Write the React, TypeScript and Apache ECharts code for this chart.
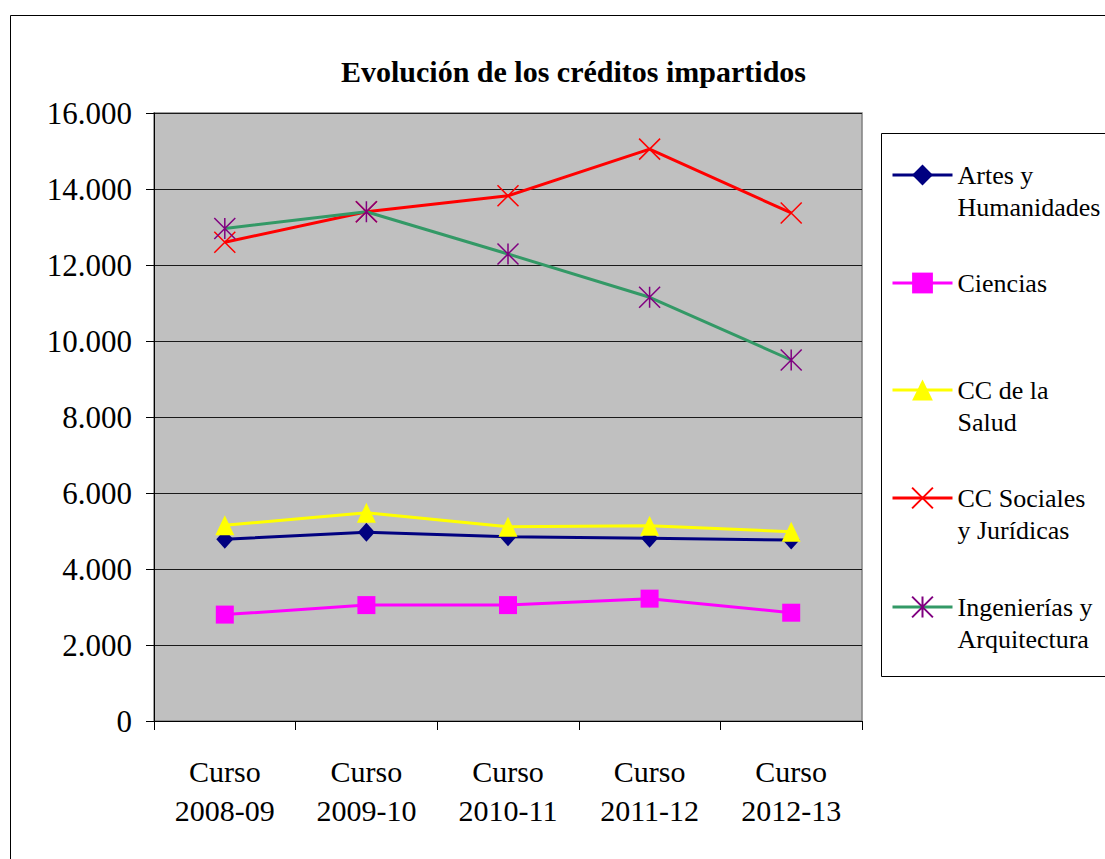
import React, { useEffect, useRef } from "react";
import * as echarts from "echarts";

const categories = ["Curso\n2008-09", "Curso\n2009-10", "Curso\n2010-11", "Curso\n2011-12", "Curso\n2012-13"];
const seriesNames = ["Artes y\nHumanidades", "Ciencias", "CC de la\nSalud", "CC Sociales\ny Jurídicas", "Ingenierías y\nArquitectura"];
const artes = [4780, 4970, 4850, 4810, 4760];
const ciencias = [2800, 3050, 3050, 3220, 2850];
const salud = [5150, 5480, 5110, 5140, 4980];
const sociales = [12600, 13400, 13820, 15050, 13370];
const ingenierias = [12960, 13400, 12290, 11150, 9500];
const yMin = 0;
const yMax = 16000;
const yInterval = 2000;

const FONT = "Times New Roman, Liberation Serif, serif";

function fmt(v: number): string {
  return String(v).replace(/\B(?=(\d{3})+(?!\d))/g, ".");
}

export default function App() {
  const ref = useRef<HTMLDivElement>(null);
  useEffect(() => {
    if (!ref.current) return;
    const chart = echarts.init(ref.current, null, { renderer: "svg" });
    const lh = 32;
    const legendTops = [127, 267, 342, 450, 559];
    const legendFont = 26;
    const mkLegend = (i: number) => ({
      data: [seriesNames[i]],
      left: 891,
      top: legendTops[i],
      padding: 0,
      itemWidth: 60,
      itemHeight: 26,
      selectedMode: false,
      lineStyle: { width: 3 },
      formatter: seriesNames[i].includes("\n") ? (n: string) => "\n" + n : (n: string) => n,
      textStyle: {
        fontFamily: FONT,
        fontWeight: "normal",
        fontSize: legendFont,
        color: "#000",
        lineHeight: lh,
      },
    });
    const common = {
      type: "line" as const,
      showAllSymbol: true,
    };
    chart.setOption({
      animation: false,
      backgroundColor: "#fff",
      textStyle: { fontFamily: FONT },
      title: {
        text: "Evolución de los créditos impartidos",
        left: 341,
        top: 56,
        padding: 0,
        textStyle: { fontFamily: FONT, fontSize: 30, fontWeight: "bold", color: "#000" },
      },
      graphic: [
        {
          type: "rect",
          shape: { x: 10.5, y: 15.5, width: 1200, height: 1000 },
          style: { fill: "none", stroke: "#000", lineWidth: 1 },
          z: -10,
        },
        {
          type: "rect",
          shape: { x: 881.5, y: 133.5, width: 300, height: 543 },
          style: { fill: "#fff", stroke: "#000", lineWidth: 1 },
          z: -5,
        },
      ],
      legend: [0, 1, 2, 3, 4].map(mkLegend),
      grid: {
        left: 154,
        right: 1105 - 862,
        top: 113,
        bottom: 859 - 721,
        show: true,
        backgroundColor: "#c0c0c0",
        borderColor: "#808080",
        borderWidth: 1.5,
      },
      xAxis: {
        type: "category",
        data: categories,
        boundaryGap: true,
        axisLine: { show: true, lineStyle: { color: "#000", width: 1 } },
        axisTick: { show: true, length: 9, interval: 0, lineStyle: { color: "#000" } },
        axisLabel: {
          fontFamily: FONT,
          fontWeight: "normal",
          fontSize: 30,
          color: "#000",
          lineHeight: 39,
          margin: 31,
          interval: 0,
        },
        splitLine: { show: false },
      },
      yAxis: {
        type: "value",
        min: yMin,
        max: yMax,
        interval: yInterval,
        axisLine: { show: true, lineStyle: { color: "#000", width: 1 } },
        axisTick: { show: true, length: 8, lineStyle: { color: "#000" } },
        axisLabel: {
          fontFamily: FONT,
          fontWeight: "normal",
          fontSize: 31,
          color: "#000",
          margin: 22,
          formatter: (v: number) => fmt(v),
        },
        splitLine: { show: true, lineStyle: { color: "#1a1a1a", width: 1.2 } },
      },
      series: [
        {
          ...common,
          name: seriesNames[0],
          data: artes,
          symbol: "diamond",
          symbolSize: [17, 19],
          itemStyle: { color: "#000080" },
          lineStyle: { width: 3, color: "#000080" },
        },
        {
          ...common,
          name: seriesNames[1],
          data: ciencias,
          symbol: "rect",
          symbolSize: 18,
          itemStyle: { color: "#ff00ff" },
          lineStyle: { width: 3, color: "#ff00ff" },
        },
        {
          ...common,
          name: seriesNames[2],
          data: salud,
          symbol: "triangle",
          symbolSize: [19, 20],
          itemStyle: { color: "#ffff00" },
          lineStyle: { width: 3, color: "#ffff00" },
        },
        {
          ...common,
          name: seriesNames[3],
          data: sociales,
          symbol: "path://M0,0L10,10M10,0L0,10",
          symbolSize: 21,
          itemStyle: { color: "rgba(0,0,0,0)", borderColor: "#ff0000", borderWidth: 1.5 },
          lineStyle: { width: 3, color: "#ff0000" },
        },
        {
          ...common,
          name: seriesNames[4],
          data: ingenierias,
          symbol: "path://M0,0L10,10M10,0L0,10M5,0L5,10",
          symbolSize: 21,
          itemStyle: { color: "rgba(0,0,0,0)", borderColor: "#800080", borderWidth: 1.5 },
          lineStyle: { width: 3, color: "#339966" },
        },
      ],
    });
    return () => chart.dispose();
  }, []);
  return (
    <div
      ref={ref}
      style={{ position: "fixed", left: 0, top: 0, width: 1105, height: 859 }}
    />
  );
}
